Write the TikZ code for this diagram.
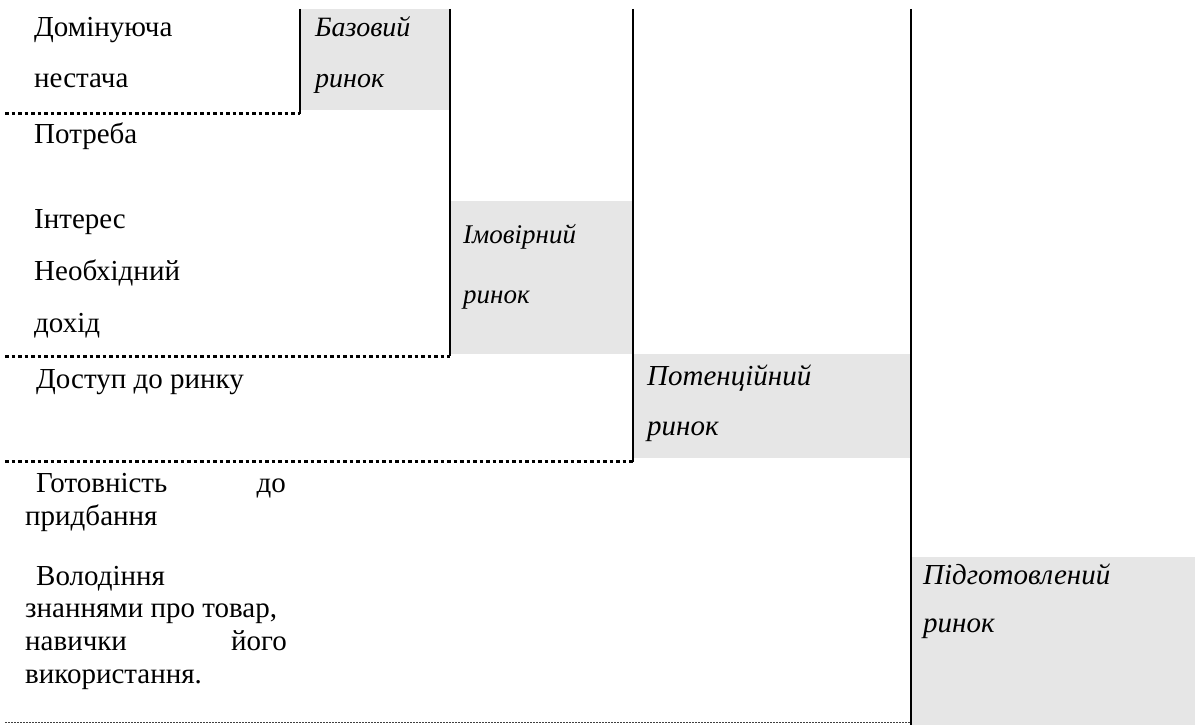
\documentclass[tikz,border=0pt]{standalone}
\usepackage{fontspec}
\setmainfont{Liberation Serif}
\definecolor{cellgray}{HTML}{E6E6E6}
\begin{document}
\begin{tikzpicture}[x=1pt,y=-1pt,
  vline/.style={line width=2.5pt},
  dotline/.style={line width=3pt, dash pattern=on 3.5pt off 3pt},
  thindot/.style={line width=1pt, dash pattern=on 1.5pt off 1.5pt, black!75},
  cell/.style={fill=cellgray, draw=none, inner sep=0pt, anchor=north west},
  lbl/.style={anchor=base west, inner sep=0pt, font=\fontsize{29}{33}\selectfont},
  rlbl/.style={anchor=base east, inner sep=0pt, font=\fontsize{29}{33}\selectfont},
  ilbl/.style={anchor=base west, inner sep=0pt, font=\fontsize{29}{33}\selectfont\itshape}]
\useasboundingbox (0,0) rectangle (1195,725);
% grey cells
\node[cell, minimum width=149pt, minimum height=101pt] (basecell) at (300,9) {};
\node[cell, minimum width=183pt, minimum height=153pt] (probcell) at (450,201) {};
\node[cell, minimum width=278pt, minimum height=104pt] (potcell) at (633,354) {};
\node[cell, minimum width=284pt, minimum height=168pt] (prepcell) at (911,557) {};
% coordinates
\coordinate (v1t) at (300,9);  \coordinate (v1b) at (300,114);
\coordinate (v2t) at (450,9);  \coordinate (v2b) at (450,356);
\coordinate (v3t) at (633,9);  \coordinate (v3b) at (633,462);
\coordinate (v4t) at (911,9);  \coordinate (v4b) at (911,725);
\coordinate (d1a) at (5,113);  \coordinate (d1b) at (300,113);
\coordinate (d2a) at (5,356);  \coordinate (d2b) at (450,356);
\coordinate (d3a) at (5,461);  \coordinate (d3b) at (633,461);
\coordinate (d4a) at (5,722);  \coordinate (d4b) at (911,722);
% lines
\draw[vline] (v1t) -- (v1b);
\draw[vline] (v2t) -- (v2b);
\draw[vline] (v3t) -- (v3b);
\draw[vline] (v4t) -- (v4b);
\draw[dotline] (d1a) -- (d1b);
\draw[dotline] (d2a) -- (d2b);
\draw[dotline] (d3a) -- (d3b);
\draw[thindot] (d4a) -- (d4b);
% left column texts
\node[lbl] (t1) at (34,37) {Домінуюча};
\node[lbl] (t2) at (34,88) {нестача};
\node[lbl] (t3) at (34,143) {Потреба};
\node[lbl] (t4) at (34,228) {Інтерес};
\node[lbl] (t5) at (34,280) {Необхідний};
\node[lbl] (t6) at (34,332) {дохід};
\node[lbl] (t7) at (36,388) {Доступ до ринку};
\node[lbl] (t8) at (36,492) {Готовність};
\node[rlbl] (t8b) at (286,492) {до};
\node[lbl] (t9) at (25,525) {придбання};
\node[lbl] (t10) at (36,585) {Володіння};
\node[lbl] (t11) at (25,617) {знаннями про товар,};
\node[lbl] (t12) at (25,650) {навички};
\node[rlbl] (t12b) at (287,650) {його};
\node[lbl] (t13) at (25,683) {використання.};
% market labels
\node[ilbl, font=\fontsize{28}{33}\selectfont\itshape] (b1) at (315,37) {Базовий};
\node[ilbl, font=\fontsize{28}{33}\selectfont\itshape] (b2) at (315,88) {ринок};
\node[ilbl, font=\fontsize{27}{31}\selectfont\itshape] (i1) at (463,243) {Імовірний};
\node[ilbl, font=\fontsize{27}{31}\selectfont\itshape] (i2) at (463,303) {ринок};
\node[ilbl] (p1) at (647,385) {Потенційний};
\node[ilbl] (p2) at (647,435) {ринок};
\node[ilbl] (g1) at (923,584) {Підготовлений};
\node[ilbl] (g2) at (923,632) {ринок};
\end{tikzpicture}
\end{document}
